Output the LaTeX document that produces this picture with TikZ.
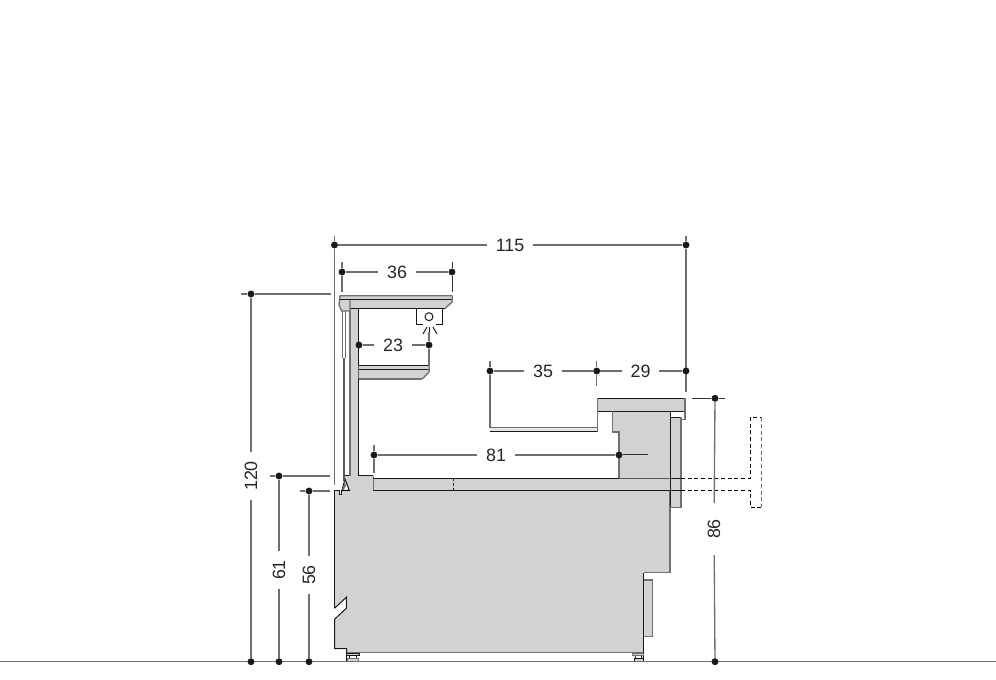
\documentclass[tikz,border=0pt]{standalone}
\usepackage{fontspec}
\setmainfont{Liberation Sans}
\definecolor{bodygrey}{HTML}{D2D2D2}
\definecolor{dimgrey}{HTML}{707070}
\begin{document}
\begin{tikzpicture}[x=0.75pt,y=-0.75pt,
        outline/.style = {line width=0.75pt,black!90},
        greyline/.style = {line width=1pt,dimgrey},
        panel/.style = {fill=bodygrey,draw=none},
        dimline/.style = {line width=1pt,dimgrey},
        dimtick/.style = {line width=0.75pt,black!80},
        dimdot/.style = {circle,fill=black!90,inner sep=0pt,minimum size=5.2pt},
        dimlabel/.style = {inner sep=6.5pt,font=\fontsize{13.4pt}{15pt}\selectfont,text=black!85},
        hidden/.style = {line width=0.75pt,black,dash pattern=on 3pt off 2pt}]
    \useasboundingbox (0,0) rectangle (996,680);

    % Cabinet body

    \fill[panel] (334.5,490.3) -- (339,490.3) -- (339,494.5) -- (341.7,494.5) -- (341.7,490.3)
        -- (349,490.3) -- (345,478) -- (345,475.7) -- (373.3,475.7) -- (373.3,490.3)
        -- (670,490.3) -- (670,572.7) -- (643.7,572.7) -- (643.7,652.7) -- (346.7,652.7)
        -- (346.7,648.7) -- (334.5,648.7) -- (334.5,619.3) -- (346.3,608.3) -- (346.3,597.3)
        -- (334.5,608.3) -- cycle;
    \fill[panel] (373.3,478.3) rectangle (681,490.3);
    \draw[outline] (334.5,608.3) -- (334.5,490.3) -- (339,490.3) -- (339,494.5) -- (341.7,494.5) -- (341.7,490.3);
    \draw[outline] (334.5,608.3) -- (346.3,597.3) -- (346.3,608.3) -- (334.5,619.3) -- (334.5,648.7) -- (346.7,648.7) -- (346.7,661.7);
    \draw[greyline] (346.7,652.7) -- (643.7,652.7);
    \draw[greyline] (670,490.3) -- (670,572.7) -- (643.7,572.7);
    \draw[outline] (643.7,572.7) -- (643.7,661.7);
    \draw[outline] (345,475.7) -- (373.3,475.7);
    \draw[greyline] (373.3,475.7) -- (373.3,490.3);
    \draw[outline] (373.3,478.3) -- (681,478.3);
    \draw[outline] (373.3,490.3) -- (681,490.3);
    \draw[outline,dash pattern=on 2.2pt off 1.5pt] (453.3,478.3) -- (453.3,490.3);

    % Seal at the foot of the post

    \fill[white] (342,490.3) -- (345,479) -- (349.3,490.3) -- cycle;
    \draw[line width=0.7pt,black] (342,490.3) -- (345,479) -- (349.3,490.3) -- cycle;
    \fill[dimgrey] (342,490) -- (345,481) -- (346,486) -- (343.5,490) -- cycle;

    % Feet

    \draw[outline,fill=bodygrey] (347,653) -- (359,653) -- (359,655.5) -- (347,655.5);
    \draw[outline] (349.5,655.5) -- (349.5,658.7);
    \draw[outline] (356,655.5) -- (356,658.7);
    \draw[greyline,fill=bodygrey] (347.3,658.7) rectangle (358.3,661.5);
    \draw[greyline,fill=bodygrey] (632.3,653.3) rectangle (643.7,655.7);
    \draw[outline] (635.5,655.7) -- (635.5,658.7);
    \draw[outline] (641.5,655.7) -- (641.5,658.7);
    \draw[outline,fill=bodygrey] (634.3,658.7) rectangle (643.7,661.5);

    % Lower side panel

    \draw[greyline,fill=bodygrey] (643.7,580) -- (652.7,580) -- (652.7,636.3) -- (643.7,636.3);

    % Post and struts

    \fill[panel] (350,308.7) rectangle (358.3,475.7);
    \draw[greyline] (350,308.7) -- (350,475.7);
    \draw[outline] (358.3,308.7) -- (358.3,475.7);
    \draw[greyline] (342.7,311) -- (342.7,358);
    \draw[greyline] (345.3,311) -- (345.3,358);
    \draw[line width=1.5pt,dimgrey!80!black] (344,358) -- (344,481);

    % Top shelf

    \fill[panel] (340,295.7) -- (452.3,295.7) -- (452.3,301.7) -- (445,308.7) -- (350,308.7)
        -- (350,311) -- (341.7,311) -- (339,305) -- cycle;
    \draw[greyline] (339,305) -- (340,295.7) -- (452.3,295.7);
    \draw[outline] (340,300) -- (452.3,300);
    \draw[greyline] (452.3,295.7) -- (452.3,301.7) -- (445,308.7);
    \draw[outline] (445,308.7) -- (350,308.7);
    \draw[greyline] (339,305) -- (341.7,311) -- (350,311) -- (350,300);

    % Lamp

    \draw[outline] (422.7,325) -- (416.7,325) -- (416.7,308.7);
    \draw[outline] (442.3,308.7) -- (442.3,325) -- (435.7,325);
    \draw[outline] (429,316.7) circle (4);
    \draw[outline] (427,327) -- (423,334);
    \draw[outline] (433,327) -- (437,334);
    \draw[outline] (429,327) -- (429,333);

    % Lower shelf

    \fill[panel] (358.7,365.3) -- (429.3,365.3) -- (429.3,371.7) -- (422.3,379) -- (358.7,379) -- cycle;
    \draw[outline] (358.7,365.3) -- (429.3,365.3);
    \draw[outline] (358.7,369.3) -- (429.3,369.3);
    \draw[greyline] (429.3,365.3) -- (429.3,371.7) -- (422.3,379);
    \draw[greyline] (422.3,379) -- (358.7,379);

    % Tray

    \fill[bodygrey!60] (490,427.3) rectangle (596.7,431.7);
    \draw[greyline] (490,427.3) -- (596.7,427.3);
    \draw[outline] (490,431.7) -- (596.7,431.7);

    % Counter and right block

    \fill[panel] (597.3,398.3) rectangle (685,411.3);
    \fill[panel] (612.7,411.3) -- (670,411.3) -- (670,478.3) -- (619,478.3) -- (619,432) -- (612.7,432) -- cycle;
    \draw[outline] (597.3,398.3) -- (685,398.3);
    \draw[outline] (597.3,411.3) -- (685,411.3);
    \draw[greyline] (597.3,398.3) -- (597.3,431.7);
    \draw[greyline] (685,398.3) -- (685,419.3) -- (681,419.3);
    \draw[greyline] (612.7,411.3) -- (612.7,432) -- (619,432) -- (619,478.3);
    \draw[outline] (670,411.3) -- (670,478.3);

    % Side panel

    \fill[panel] (670,417.3) rectangle (681,507.3);
    \draw[outline] (670,417.3) -- (681,417.3);
    \draw[greyline] (681,417.3) -- (681,507.3) -- (670,507.3);
    \draw[outline] (670,417.3) -- (670,507.3);
    \draw[outline] (670,478.3) -- (681,478.3);
    \draw[outline] (670,490.3) -- (681,490.3);

    % Pull-out, dashed

    \draw[hidden] (681,478.3) -- (750.3,478.3) -- (750.3,417.3) -- (761.7,417.3);
    \draw[hidden] (681,490.3) -- (750.3,490.3) -- (750.3,507.3) -- (761.7,507.3);
    \draw[hidden,dimgrey] (761.7,417.3) -- (761.7,507.3);

    % Floor

    \draw[line width=1pt,dimgrey] (0,661.7) -- (996,661.7);

    % Dimensions across

    \node[dimdot] (dotA) at (334.5,245) {};
    \node[dimdot] (dotB) at (686,245) {};
    \node[dimlabel] (widthAll) at (510,245) {115};
    \draw[dimline] (dotA) -- (widthAll);
    \draw[dimline] (widthAll) -- (dotB);
    \draw[dimline] (dotA) -- ++(0,-9);
    \draw[dimline] (dotA) -- ++(0,240);
    \draw[dimline] (dotB) -- ++(0,-9);
    \draw[dimline] (dotB) -- ++(0,147);

    \node[dimdot] (dotC) at (342,272) {};
    \node[dimdot] (dotD) at (452,272) {};
    \node[dimlabel] (widthTop) at (397,272) {36};
    \draw[dimline] (dotC) -- (widthTop);
    \draw[dimline] (widthTop) -- (dotD);
    \draw[dimline] (dotC) -- ++(0,-10);
    \draw[dimline] (dotC) -- ++(0,20);
    \draw[dimtick] (dotD) -- ++(0,-10);
    \draw[dimtick] (dotD) -- ++(0,20);

    \node[dimdot] (dotE) at (359,345) {};
    \node[dimdot] (dotF) at (429,345) {};
    \node[dimlabel] (widthLow) at (393,345) {23};
    \draw[dimline] (dotE) -- (widthLow);
    \draw[dimline] (widthLow) -- (dotF);
    \draw[dimline] (dotF) -- ++(0,-13);
    \draw[dimline] (dotF) -- ++(0,20);

    \node[dimdot] (dotG) at (490,371) {};
    \node[dimdot] (dotH) at (596.7,371) {};
    \node[dimlabel] (widthTray) at (543,371) {35};
    \node[dimlabel] (widthCounter) at (640.5,371) {29};
    \node[dimdot] (dotI) at (686,371) {};
    \draw[dimline] (dotG) -- (widthTray);
    \draw[dimline] (widthTray) -- (dotH);
    \draw[dimline] (dotH) -- (widthCounter);
    \draw[dimline] (widthCounter) -- (dotI);
    \draw[dimline] (dotG) -- ++(0,-10);
    \draw[dimline] (dotG) -- ++(0,57);
    \draw[dimline] (dotH) -- ++(0,-10);
    \draw[dimline] (dotH) -- ++(0,15);

    \node[dimdot] (dotJ) at (374,455) {};
    \node[dimdot] (dotK) at (619,455) {};
    \node[dimlabel] (depthDeck) at (496,455) {81};
    \draw[dimline] (dotJ) -- (depthDeck);
    \draw[dimline] (depthDeck) -- (dotK);
    \draw[dimtick] (dotK) -- ++(29,0);
    \draw[dimline] (dotJ) -- ++(0,-10);
    \draw[dimline] (dotJ) -- ++(0,18);

    % Heights

    \node[dimdot] (dotL) at (251,294) {};
    \node[dimdot] (dotM) at (251,661.7) {};
    \node[dimlabel,rotate=90] (heightAll) at (251,476) {120};
    \draw[dimline] (dotL) -- (heightAll);
    \draw[dimline] (heightAll) -- (dotM);
    \draw[dimline] (dotL) -- ++(-10,0);
    \draw[dimline] (dotL) -- ++(80,0);

    \node[dimdot] (dotN) at (279,476) {};
    \node[dimdot] (dotO) at (279,661.7) {};
    \node[dimlabel,rotate=90] (heightDeck) at (279,570) {61};
    \draw[dimline] (dotN) -- (heightDeck);
    \draw[dimline] (heightDeck) -- (dotO);
    \draw[dimline] (dotN) -- ++(-9,0);
    \draw[dimline] (dotN) -- ++(51,0);

    \node[dimdot] (dotP) at (309,491) {};
    \node[dimdot] (dotQ) at (309,661.7) {};
    \node[dimlabel,rotate=90] (heightBody) at (309,575) {56};
    \draw[dimline] (dotP) -- (heightBody);
    \draw[dimline] (heightBody) -- (dotQ);
    \draw[dimline] (dotP) -- ++(-9,0);
    \draw[dimline] (dotP) -- ++(21,0);

    \node[dimdot] (dotR) at (715,398.3) {};
    \node[dimdot] (dotS) at (715,661.7) {};
    \node[dimlabel,rotate=90,inner xsep=12pt] (heightCounter) at (714,529) {86};
    \draw[dimline] (dotR) -- (heightCounter);
    \draw[dimline] (heightCounter) -- (dotS);
    \draw[dimtick] (dotR) -- ++(-23,0);
    \draw[dimtick] (dotR) -- ++(10,0);
\end{tikzpicture}
\end{document}
